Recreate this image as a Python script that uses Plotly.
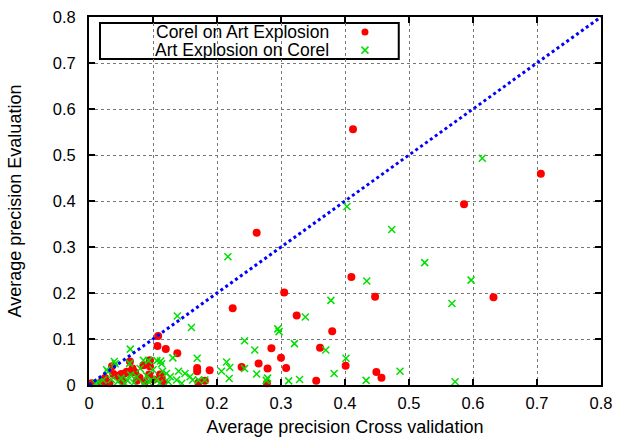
import plotly.graph_objects as go

# Corel on Art Explosion (red dots)
red_x = [0.4125, 0.706, 0.586, 0.262, 0.632, 0.305, 0.410, 0.447, 0.2245, 0.3245,
         0.380, 0.285, 0.361, 0.300, 0.265, 0.2385, 0.279, 0.308, 0.1885, 0.169,
         0.169, 0.401, 0.449, 0.457, 0.355, 0.278, 0.171, 0.181, 0.108, 0.107,
         0.120, 0.138, 0.095, 0.095, 0.064, 0.085, 0.072, 0.094, 0.111, 0.1135,
         0.0745, 0.0875, 0.116, 0.036, 0.0427, 0.0505, 0.0557, 0.059, 0.068, 0.069,
         0.0635, 0.019, 0.027, 0.032, 0.004, 0.018, 0.025, 0.038, 0.049, 0.053,
         0.079, 0.101]
red_y = [0.556, 0.459, 0.393, 0.331, 0.191, 0.201, 0.235, 0.192, 0.167, 0.151,
         0.117, 0.080, 0.081, 0.059, 0.047, 0.039, 0.036, 0.037, 0.032, 0.037,
         0.030, 0.042, 0.028, 0.016, 0.009, 0.004, 0.005, 0.009, 0.1065, 0.085,
         0.078, 0.069, 0.054, 0.041, 0.051, 0.043, 0.027, 0.023, 0.023, 0.017,
         0.009, 0.007, 0.004, 0.041, 0.020, 0.024, 0.025, 0.029, 0.036, 0.031,
         0.029, 0.007, 0.007, 0.004, 0.004, -0.003, 0.015, 0.024, 0.013, 0.008,
         0.016, 0.012]

# Art Explosion on Corel (green crosses)
green_x = [0.6145, 0.403, 0.473, 0.217, 0.5245, 0.434, 0.597, 0.378, 0.567, 0.138,
           0.338, 0.160, 0.295, 0.297, 0.243, 0.321, 0.259, 0.370, 0.0645, 0.169,
           0.4015, 0.131, 0.215, 0.220, 0.243, 0.207, 0.262, 0.383, 0.486, 0.219,
           0.279, 0.277, 0.329, 0.312, 0.433, 0.572, 0.0395, 0.041, 0.0275, 0.0297,
           0.0635, 0.085, 0.093, 0.106, 0.112, 0.1135, 0.080, 0.100, 0.121, 0.127,
           0.137, 0.150, 0.158, 0.162, 0.171, 0.181, 0.0745, 0.106, 0.093, 0.124,
           0.098, 0.022, 0.045, 0.056, 0.010, 0.015, 0.035, 0.060, 0.070, 0.085,
           0.110, 0.145, 0.050, 0.065, 0.090, 0.115, 0.140]
green_y = [0.493, 0.388, 0.338, 0.279, 0.266, 0.226, 0.228, 0.184, 0.177, 0.150,
           0.148, 0.125, 0.122, 0.116, 0.096, 0.090, 0.076, 0.076, 0.078, 0.058,
           0.058, 0.059, 0.050, 0.038, 0.036, 0.030, 0.024, 0.025, 0.030, 0.014,
           0.015, 0.010, 0.012, 0.009, 0.010, 0.007, 0.051, 0.046, 0.033, 0.029,
           0.047, 0.054, 0.053, 0.053, 0.052, 0.046, 0.036, 0.033, 0.025, 0.018,
           0.011, 0.025, 0.018, 0.011, 0.011, 0.011, 0.018, 0.012, 0.007, 0.007,
           0.011, 0.011, 0.007, 0.004, 0.004, 0.006, 0.012, 0.010, 0.005, 0.003,
           0.004, 0.004, 0.015, 0.022, 0.020, 0.030, 0.030]

diag = [0.0, 0.8]
tick_vals = [0, 0.1, 0.2, 0.3, 0.4, 0.5, 0.6, 0.7, 0.8]
tick_text = ["0", "0.1", "0.2", "0.3", "0.4", "0.5", "0.6", "0.7", "0.8"]
series_names = ["Corel on Art Explosion", "Art Explosion on Corel"]

FONT = "Liberation Sans, Arial, sans-serif"
RED = "#ff0000"
GREEN = "#00e000"

fig = go.Figure()
fig.add_trace(go.Scatter(x=red_x, y=red_y, mode="markers", name=series_names[0],
                         marker=dict(symbol="circle", size=8, color=RED),
                         cliponaxis=False, showlegend=False))
fig.add_trace(go.Scatter(x=green_x, y=green_y, mode="markers", name=series_names[1],
                         marker=dict(symbol="x-thin", size=7,
                                     line=dict(color=GREEN, width=1.5)),
                         cliponaxis=False, showlegend=False))
fig.add_trace(go.Scatter(x=diag, y=diag, mode="lines",
                         line=dict(color="#0000ff", width=3, dash="3px,3px"),
                         showlegend=False))

# manual legend (gnuplot style: text then sample on the right)
lg_x = [0.539, 0.539]
lg_y = [0.959, 0.910]
fig.add_trace(go.Scatter(x=[lg_x[0]], y=[lg_y[0]], xaxis="x2", yaxis="y2", mode="markers",
                         marker=dict(symbol="circle", size=7, color=RED), showlegend=False))
fig.add_trace(go.Scatter(x=[lg_x[1]], y=[lg_y[1]], xaxis="x2", yaxis="y2", mode="markers",
                         marker=dict(symbol="x-thin", size=7, line=dict(color=GREEN, width=1.5)),
                         showlegend=False))
for name, yy in zip(series_names, lg_y):
    fig.add_annotation(x=0.471, y=yy, xref="paper", yref="paper", text=name,
                       showarrow=False, xanchor="right", yanchor="middle", borderpad=0,
                       font=dict(family=FONT, size=17.5, color="black"))
fig.add_shape(type="rect", xref="paper", yref="paper", x0=0.0215, x1=0.605,
              y0=0.886, y1=0.9837, line=dict(color="black", width=2),
              fillcolor="white", layer="below")

axis_common = dict(range=[0, 0.8], tickvals=tick_vals, ticktext=tick_text,
                   showgrid=True, gridcolor="#777777", griddash="dot", gridwidth=1,
                   zeroline=False, showline=True, linecolor="black", linewidth=2,
                   mirror="ticks", ticks="inside", ticklen=6, tickwidth=2,
                   automargin=False,
                   tickcolor="black", tickfont=dict(family=FONT, size=16.5, color="black"))

fig.update_layout(
    width=617, height=437,
    margin=dict(l=89, r=16, t=17, b=52),
    paper_bgcolor="white", plot_bgcolor="white",
    font=dict(family=FONT, size=16, color="black"),
    xaxis=dict(**axis_common,
               title=dict(text="Average precision Cross validation",
                          font=dict(family=FONT, size=18), standoff=10),
               ticklabelstandoff=2),
    yaxis=dict(**axis_common,
               title=dict(text="Average precision Evaluation",
                          font=dict(family=FONT, size=18), standoff=26),
               ticklabelstandoff=8),
    xaxis2=dict(range=[0, 1], overlaying="x", visible=False, fixedrange=True),
    yaxis2=dict(range=[0, 1], overlaying="y", visible=False, fixedrange=True),
)

fig.write_html("out.html", config={"displayModeBar": False},
               post_script="document.body.style.margin='0';document.body.style.padding='0';")
